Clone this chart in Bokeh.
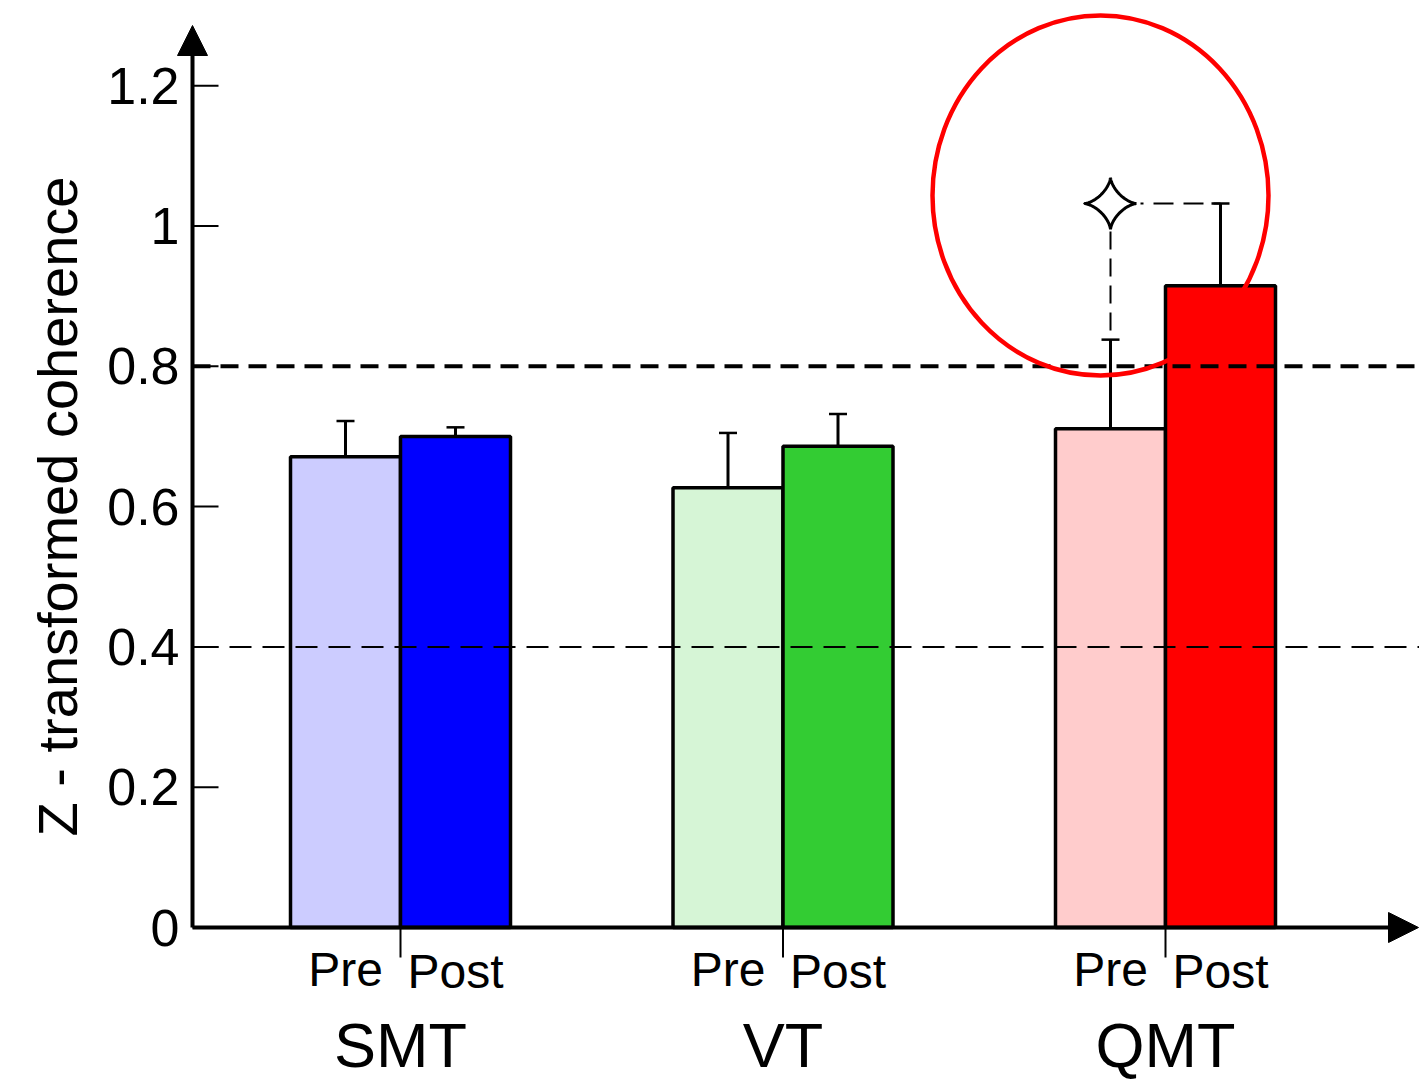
import numpy as np
from bokeh.plotting import figure
from bokeh.models import (Range1d, Arrow, NormalHead, TeeHead, Whisker,
                          ColumnDataSource)
from bokeh.core.properties import value
from bokeh.embed import file_html
from bokeh.resources import INLINE

# ---- data -------------------------------------------------------------
groups = ["SMT", "VT", "QMT"]
phases = ["Pre", "Post"]
pre_mean = [0.671, 0.627, 0.711]
post_mean = [0.700, 0.686, 0.915]
pre_err = [0.051, 0.078, 0.127]
post_err = [0.013, 0.046, 0.117]
pre_colors = ["#ccccff", "#d6f5d6", "#ffcccc"]
post_colors = ["#0000ff", "#33cc33", "#ff0000"]
y_ticks = [0, 0.2, 0.4, 0.6, 0.8, 1.0, 1.2]
y_tick_labels = ["0", "0.2", "0.4", "0.6", "0.8", "1", "1.2"]
y_title = "Z - transformed coherence"
ref_levels = [0.4, 0.8]
marked_group = "QMT"

# ---- layout -----------------------------------------------------------
W, H = 1419, 1085
AXIS_PX = 192                  # pixel column of the y axis
ZERO_PX = 927                  # pixel row of y = 0
PX_X = 382.5                   # pixels per group step
PX_Y = 701.5                   # pixels per unit of coherence
BAR_W = 110 / PX_X
FONT = "Liberation Sans"


def dx(px):
    return px / PX_X


def dy(px):
    return px / PX_Y


g_pos = np.arange(1, len(groups) + 1, dtype=float)
x0 = 1 - dx(400)
x1 = x0 + dx(W)
y0 = -dy(H - ZERO_PX)
y1 = dy(ZERO_PX)
xa = x0 + dx(AXIS_PX)          # data x of the y axis

p = figure(width=W, height=H, x_range=Range1d(x0, x1), y_range=Range1d(y0, y1),
           output_backend="svg", toolbar_location=None,
           x_axis_type=None, y_axis_type=None, outline_line_color=None,
           min_border=0)
p.background_fill_color = "white"
p.border_fill_color = "white"

# ---- bars -------------------------------------------------------------
pre_x = g_pos - BAR_W / 2
post_x = g_pos + BAR_W / 2
src = ColumnDataSource(dict(
    x=np.concatenate([pre_x, post_x]),
    top=pre_mean + post_mean,
    upper=[m + e for m, e in zip(pre_mean + post_mean, pre_err + post_err)],
    color=pre_colors + post_colors,
))
p.vbar(x="x", top="top", bottom=0, width=BAR_W, source=src,
       fill_color="color", line_color="black", line_width=3.5)

p.add_layout(Whisker(source=src, base="x", lower="top", upper="upper",
                     dimension="height", line_width=3, line_color="black",
                     upper_head=TeeHead(size=18, line_width=2.5, line_color="black"),
                     lower_head=None))

# reference levels, from the axis to the right edge
p.segment(x0=[xa], y0=[ref_levels[1]], x1=[x1], y1=[ref_levels[1]],
          line_color="black", line_width=4, line_dash="18 10")
p.segment(x0=[xa + dx(4)], y0=[ref_levels[0]], x1=[x1], y1=[ref_levels[0]],
          line_color="black", line_width=2, line_dash="22 11")

# ---- axes -------------------------------------------------------------
p.add_layout(Arrow(end=NormalHead(size=30, fill_color="black", line_color="black"),
                   x_start=xa, y_start=0, x_end=xa, y_end=dy(ZERO_PX - 25),
                   line_width=4, line_color="black", level="overlay"))
p.add_layout(Arrow(end=NormalHead(size=30, fill_color="black", line_color="black"),
                   x_start=xa, y_start=0, x_end=x0 + dx(W - 1), y_end=0,
                   line_width=4, line_color="black", level="overlay"))

p.segment(x0=[xa] * len(y_ticks), y0=y_ticks, x1=[xa + dx(26)] * len(y_ticks),
          y1=y_ticks, line_color="black", line_width=2)
p.text(x=[xa - dx(13)] * len(y_ticks), y=y_ticks, text=y_tick_labels,
       text_align="right", text_baseline="middle",
       text_font=value(FONT), text_font_size="52px", text_color="black")
p.text(x=[x0 + dx(57)], y=[dy(ZERO_PX - 506)], text=[y_title], angle=np.pi / 2,
       text_align="center", text_baseline="middle",
       text_font=value(FONT), text_font_size="56px", text_color="black")

# group dividers under the axis
p.segment(x0=g_pos, y0=0, x1=g_pos, y1=-dy(30), line_color="black", line_width=2)

# category labels
p.text(x=pre_x, y=[-dy(42)] * len(groups), text=[phases[0]] * len(groups),
       text_align="center", text_baseline="alphabetic",
       text_font=value(FONT), text_font_size="48px", text_color="black")
p.text(x=post_x, y=[-dy(44)] * len(groups), text=[phases[1]] * len(groups),
       text_align="center", text_baseline="alphabetic",
       text_font=value(FONT), text_font_size="48px", text_color="black")
p.text(x=g_pos, y=[-dy(117)] * len(groups), text=groups,
       text_align="center", text_baseline="alphabetic",
       text_font=value(FONT), text_font_size="63px", text_color="black")

# ---- significance marker on the highlighted group -------------------------
k = groups.index(marked_group)
sx = pre_x[k]
sy = post_mean[k] + post_err[k]
star_r = 26
t = np.linspace(0, 2 * np.pi, 160)
p.patch(sx + dx(star_r) * np.cos(t) ** 3, sy + dy(star_r) * np.sin(t) ** 3,
        fill_color="white", line_color="black", line_width=3)
p.segment(x0=[sx], y0=[sy - dy(star_r + 2)], x1=[sx], y1=[pre_mean[k] + pre_err[k]],
          line_color="black", line_width=2, line_dash="18 9")
p.segment(x0=[sx + dx(star_r + 4)], y0=[sy], x1=[post_x[k]], y1=[sy],
          line_color="black", line_width=2, line_dash="3 10 17 0")

p.ellipse(x=[sx - dx(10)], y=[sy + dy(8)], width=336, height=360,
          width_units="screen", height_units="screen",
          fill_color=None, line_color="#ff0000", line_width=4.5)

open("out.html", "w").write(file_html(p, INLINE))
